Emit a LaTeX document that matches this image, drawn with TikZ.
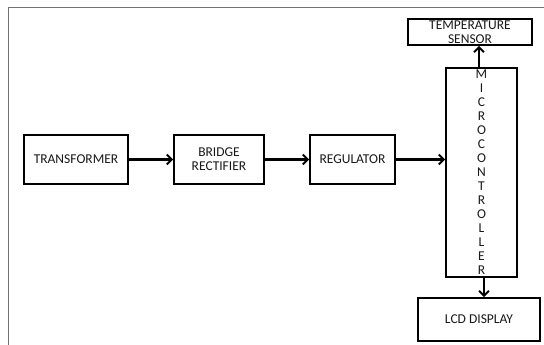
\documentclass[tikz,border=0pt]{standalone}
\usepackage{fontspec}
\setmainfont{Carlito}
\usetikzlibrary{arrows.meta}
\begin{document}
\begin{tikzpicture}[x=1pt,y=-1pt,
  blk/.style={draw=black,line width=1.6pt,rectangle,inner sep=0pt,align=center,
    font=\fontsize{13.5}{14}\selectfont,text=black!90},
  arr/.style={line width=2.4pt,-{Straight Barb[length=5pt,width=10pt,line width=2pt]}},
  frame/.style={draw=black!55,line width=0.9pt}]
\useasboundingbox (0,0) rectangle (544,345);
\draw[frame] (8,346) -- (8,7) -- (545,7);
\node[blk,minimum width=104pt,minimum height=49pt] (tr) at (76,159.5) {TRANSFORMER};
\node[blk,minimum width=90pt,minimum height=49pt] (br) at (219,159.5) {BRIDGE\\RECTIFIER};
\node[blk,minimum width=85pt,minimum height=49pt] (rg) at (352.5,159.5) {REGULATOR};
\node[blk,minimum width=71pt,minimum height=209pt] (mc) at (481.5,172.5) {M\\I\\C\\R\\O\\C\\O\\N\\T\\R\\O\\L\\L\\E\\R};
\node[blk,minimum width=124pt,minimum height=26pt] (ts) at (470,32) {TEMPERATURE\\SENSOR};
\node[blk,minimum width=122pt,minimum height=43pt] (lcd) at (479,319.5) {LCD DISPLAY};
\draw[arr] (tr.east) -- (br.west);
\draw[arr] (br.east) -- (rg.west);
\draw[arr] (rg.east) -- (mc.west |- rg.east);
\draw[arr] ([xshift=-2.5pt]mc.north) -- ([xshift=-2.5pt]mc.north |- ts.south);
\draw[arr] ([xshift=2.5pt]mc.south) -- ([xshift=2.5pt]mc.south |- lcd.north);
\end{tikzpicture}
\end{document}
